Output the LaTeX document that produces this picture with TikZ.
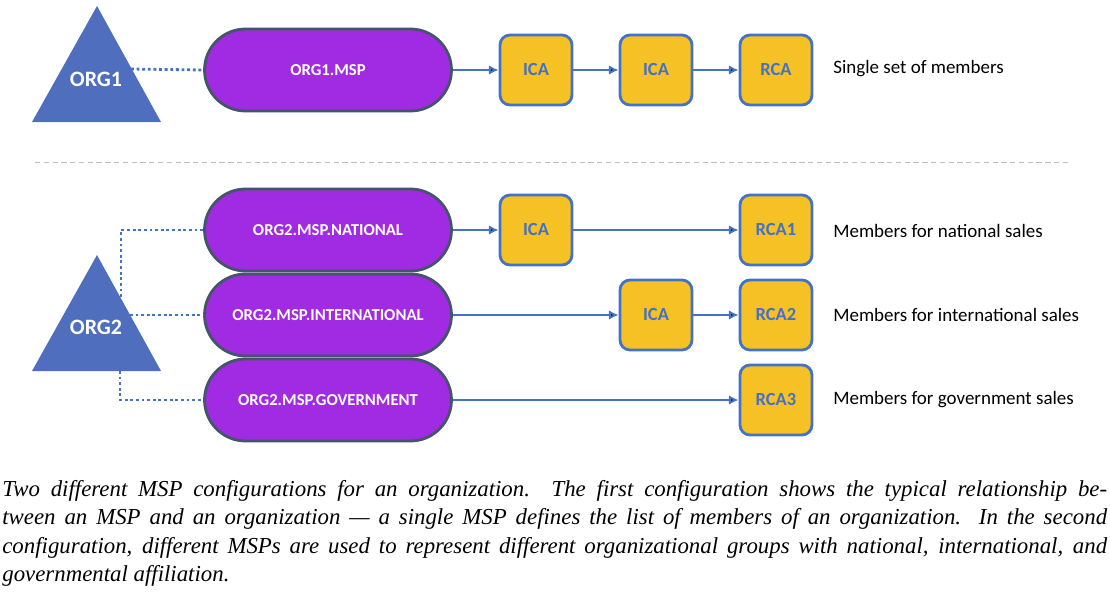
\documentclass[tikz,border=0pt]{standalone}
\usepackage{fontspec}
\setmainfont{Carlito}
\newfontfamily\capfont[Ligatures=TeX]{Liberation Serif}
\usepackage{tikz}
\usetikzlibrary{arrows.meta}

\definecolor{mspfill}{RGB}{160,43,226}
\definecolor{mspline}{RGB}{68,84,106}
\definecolor{orgblue}{RGB}{79,111,190}
\definecolor{cagold}{RGB}{245,193,36}
\definecolor{cablue}{RGB}{68,114,196}

\begin{document}
\begin{tikzpicture}[x=0.02cm,y=-0.02cm,
    msp/.style={draw=mspline,line width=1.6pt,fill=mspfill,rounded corners=0.82cm,
        minimum width=4.94cm,minimum height=1.64cm,text=white,
        font=\bfseries\fontsize{9.5}{11}\selectfont},
    ca/.style={draw=cablue,line width=1.6pt,fill=cagold,rounded corners=0.2cm,
        minimum width=1.44cm,minimum height=1.40cm,text=cablue,
        font=\bfseries\fontsize{10.5}{12}\selectfont},
    org/.style={text=white,font=\bfseries\fontsize{12.5}{14}\selectfont},
    lbl/.style={anchor=west,inner sep=0pt,font=\fontsize{10.8}{13}\selectfont},
    link/.style={draw=cablue,line width=1.6pt,dash pattern=on 1.6pt off 1.6pt},
    flow/.style={draw=cablue,line width=1.4pt,-{Latex[length=5.5pt,width=5.5pt]}}]
    \useasboundingbox (0,0) rectangle (1110,592);

    % first configuration
    \fill[orgblue] (97,6) -- (161,122) -- (32,122) -- cycle;
    \node[org] at (96,79) (org1) {ORG1};
    \coordinate (org1e) at (131,69);

    \node[msp] at (328,70) (msp1) {ORG1.MSP};
    \node[ca] at (536,70) (ica1) {ICA};
    \node[ca] at (656,70) (ica2) {ICA};
    \node[ca] at (776,70) (rca) {RCA};
    \node[lbl] at (833,69) (set1) {Single set of members};

    \path[link] (org1e) edge (msp1.west);
    \path[flow] (msp1) edge (ica1);
    \path[flow] (ica1) edge (ica2);
    \path[flow] (ica2) edge (rca);

    \draw[gray!50,line width=0.5pt,dash pattern=on 3pt off 2pt] (35,162) -- (1068,162);

    % second configuration
    \fill[orgblue] (97,255) -- (161,371) -- (32,371) -- cycle;
    \node[org] at (96,327) (org2) {ORG2};
    \coordinate (org2t) at (121,297);
    \coordinate (org2m) at (130,315);
    \coordinate (org2b) at (120,371);

    \node[msp] at (328,230) (nat) {ORG2.MSP.NATIONAL};
    \node[msp] at (328,315) (intl) {ORG2.MSP.INTERNATIONAL};
    \node[msp] at (328,400) (gov) {ORG2.MSP.GOVERNMENT};

    \node[ca] at (536,230) (icanat) {ICA};
    \node[ca] at (776,230) (rca1) {RCA1};
    \node[ca] at (656,315) (icaintl) {ICA};
    \node[ca] at (776,315) (rca2) {RCA2};
    \node[ca] at (776,400) (rca3) {RCA3};

    \node[lbl] at (833,231) (set2) {Members for national sales};
    \node[lbl] at (833,315) (set3) {Members for international sales};
    \node[lbl] at (833,400) (set4) {Members for government sales};

    \draw[link] (org2t) |- (nat.west);
    \draw[link] (org2m) -- (intl.west);
    \draw[link] (org2b) |- (gov.west);

    \path[flow] (nat) edge (icanat);
    \path[flow] (icanat) edge (rca1);
    \path[flow] (intl) edge (icaintl);
    \path[flow] (icaintl) edge (rca2);
    \path[flow] (gov) edge (rca3);

    % caption
    \node[anchor=north west,inner sep=0pt,text width=22.1cm,align=justify,
        font=\capfont\itshape\fontsize{13}{16.2}\selectfont] at (2,480) (cap)
        {Two different MSP configurations for an organization.\ \ The first configuration shows the typical relationship be-\linebreak tween an MSP and an organization --- a single MSP defines the list of members of an organization.\ \ In the second\linebreak configuration, different MSPs are used to represent different organizational groups with national, international, and\linebreak governmental affiliation.};
\end{tikzpicture}
\end{document}
